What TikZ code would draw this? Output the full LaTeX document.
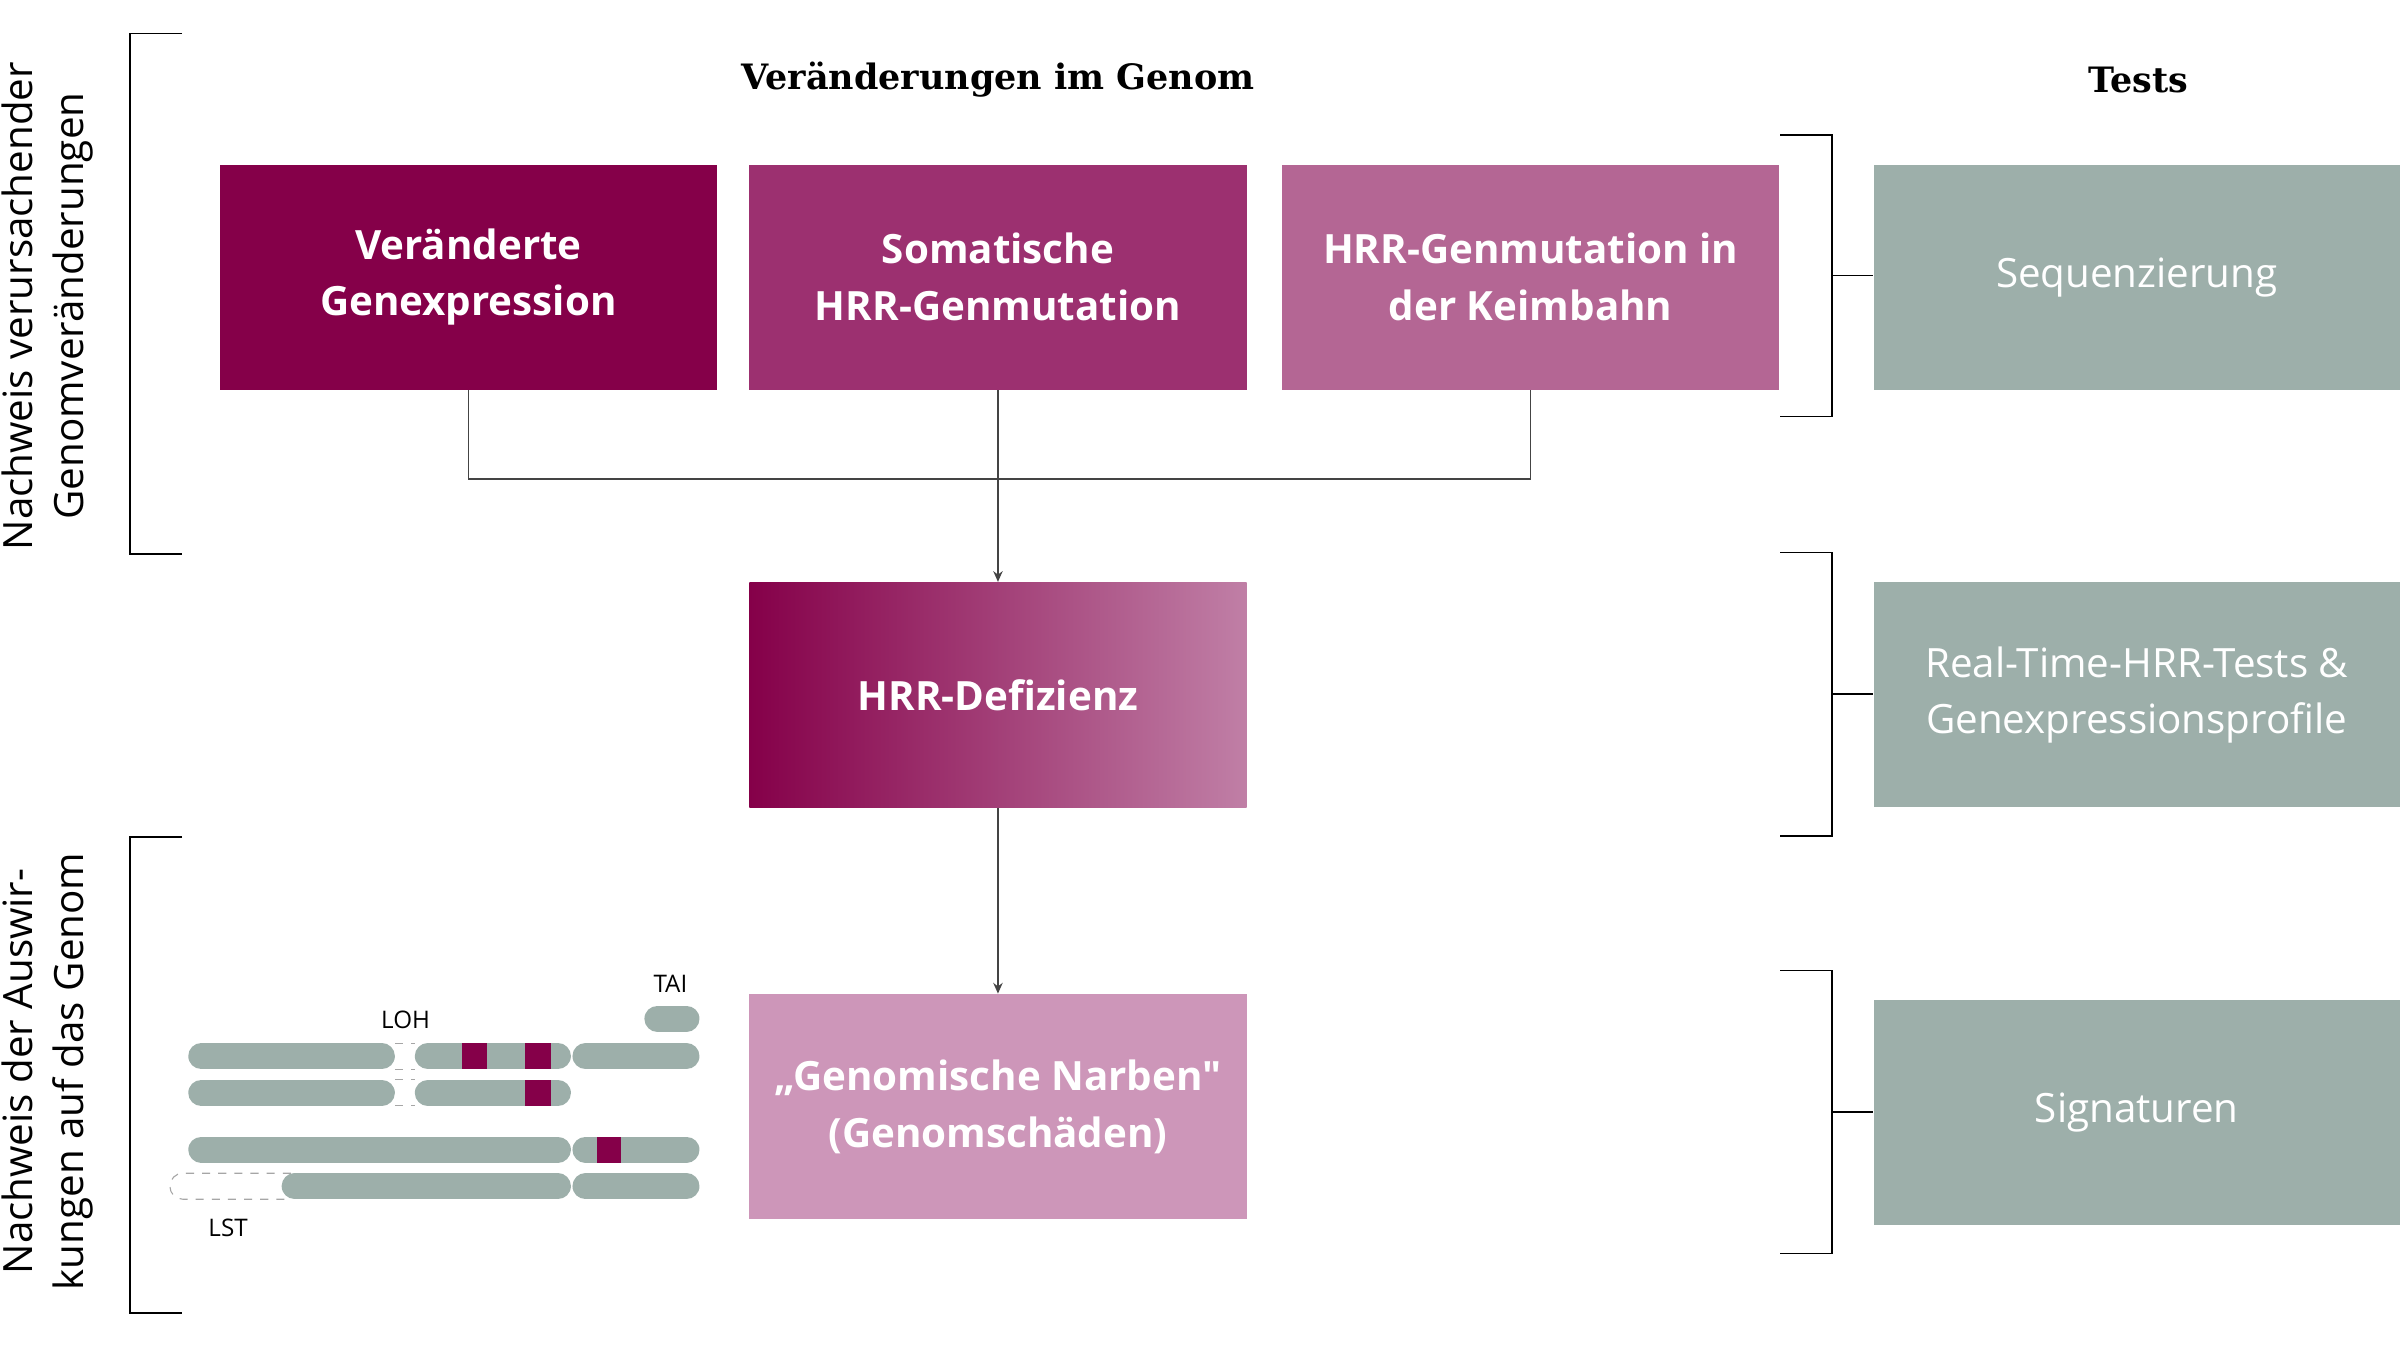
\documentclass[tikz,border=0pt]{standalone}
\usepackage{fontspec}
\setmainfont{Open Sans}[Ligatures=TeXOff]
\newfontfamily\headfont{DejaVu Serif}
\usetikzlibrary{arrows.meta, positioning}
\definecolor{plumA}{HTML}{850049}
\definecolor{plumB}{HTML}{9C3070}
\definecolor{plumC}{HTML}{B46694}
\definecolor{plumD}{HTML}{CD96B9}
\definecolor{plumE}{HTML}{C07FA6}
\definecolor{sage}{HTML}{9DAFAA}
\definecolor{linegray}{HTML}{444444}
\begin{document}
\begin{tikzpicture}[
    x=0.02cm, y=-0.02cm,
    % Node styles
    genbox/.style={rectangle, minimum width=6.5cm, minimum height=2.94cm, align=center, text=white, font=\fontsize{15}{21}\selectfont\bfseries, inner sep=0pt},
    testbox/.style={rectangle, fill=sage, minimum width=6.88cm, minimum height=2.94cm, align=center, text=white, font=\fontsize{15}{21}\selectfont, inner sep=0pt},
    head/.style={font=\headfont\fontsize{13}{18}\selectfont\bfseries},
    side/.style={rotate=90, align=center, font=\fontsize{15}{19}\selectfont},
    link/.style={draw=linegray, line width=0.6pt},
    arrow/.style={link, -{Stealth[length=4pt, width=3.5pt]}},
    brace/.style={draw=black, line width=0.6pt},
    chromo/.style={line width=0.34cm, line cap=round, draw=sage},
    band/.style={fill=plumA, draw=none},
    gap/.style={draw=gray!70, dashed, line width=0.4pt},
    tag/.style={font=\fontsize{9}{11}\selectfont},
]
\useasboundingbox (0,0) rectangle (1568,880);

% Headings
\node[head] (hgenome) at (652,52) {Veränderungen im Genom};
\node[head] (htests) at (1397,52) {Tests};

% ============================================================================
% GENOME BOXES
% ============================================================================
\node[genbox, fill=plumA] (expr) at (306,181) {Veränderte\\Genexpression};
\node[genbox, fill=plumB] (soma) at (652,181) {Somatische\\HRR-Genmutation};
\node[genbox, fill=plumC] (germ) at (1000,181) {HRR-Genmutation in\\der Keimbahn};
\node[genbox, left color=plumA, right color=plumE] (defiz) at (652,454) {HRR-Defizienz};
\node[genbox, fill=plumD] (scars) at (652,723) {„Genomische Narben"\\(Genomschäden)};

% Connectors
\coordinate (join) at (652,313);
\draw[link] (expr.south) |- (join) -| (germ.south);
\draw[arrow] (soma.south) -- (defiz.north);
\draw[arrow] (defiz.south) -- (scars.north);

% ============================================================================
% TESTS
% ============================================================================
\node[testbox] (seq) at (1396,181) {Sequenzierung};
\node[testbox] (rt) at (1396,454) {Real-Time-HRR-Tests \&\\Genexpressionsprofile};
\node[testbox] (sig) at (1396,727) {Signaturen};

% Right brackets
\foreach \t/\b/\n in {88/272/seq, 361/546/rt, 634/819/sig} {
    \draw[brace] (1163,\t) -| (1197,\b) -- (1163,\b);
    \coordinate (tick-\n) at (1197,{(\t+\b)/2});
    \draw[brace] (tick-\n) -- (tick-\n -| \n.west);
}

% Left brackets
\draw[brace] (119,22) -| (85,362) -- (119,362);
\draw[brace] (119,547) -| (85,858) -- (119,858);
\node[side] (causes) at (31,200) {Nachweis verursachender\\Genomveränderungen};
\node[side] (effects) at (31,700) {Nachweis der Auswir-\\kungen auf das Genom};

% ============================================================================
% CHROMOSOMES
% ============================================================================
% LOH pair
\foreach \y in {690, 714} {
    \draw[gap] (258,\y-8.5) -- (271,\y-8.5) (258,\y+8.5) -- (271,\y+8.5);
    \draw[chromo] (131.5,\y) -- (249.5,\y);
    \draw[chromo] (279.5,\y) -- (364.5,\y);
    \fill[band] (343,\y-8.5) rectangle (360,\y+8.5);
}
\fill[band] (302,681.5) rectangle (318,698.5);
\draw[chromo] (382.5,690) -- (448.5,690);
% TAI
\draw[chromo] (429.5,665.5) -- (448.5,665.5);
% LST pair
\draw[chromo] (131.5,751) -- (364.5,751);
\draw[chromo] (382.5,751) -- (448.5,751);
\fill[band] (390,742.5) rectangle (406,759.5);
\draw[gap, rounded corners=4.8pt] (190,766.5) -- (111,766.5) -- (111,783.5) -- (190,783.5);
\draw[chromo] (192.5,775) -- (364.5,775);
\draw[chromo] (382.5,775) -- (448.5,775);

\node[tag] (loh) at (265,666) {LOH};
\node[tag] (tai) at (438,643) {TAI};
\node[tag] (lst) at (149,802) {LST};

\end{tikzpicture}
\end{document}
